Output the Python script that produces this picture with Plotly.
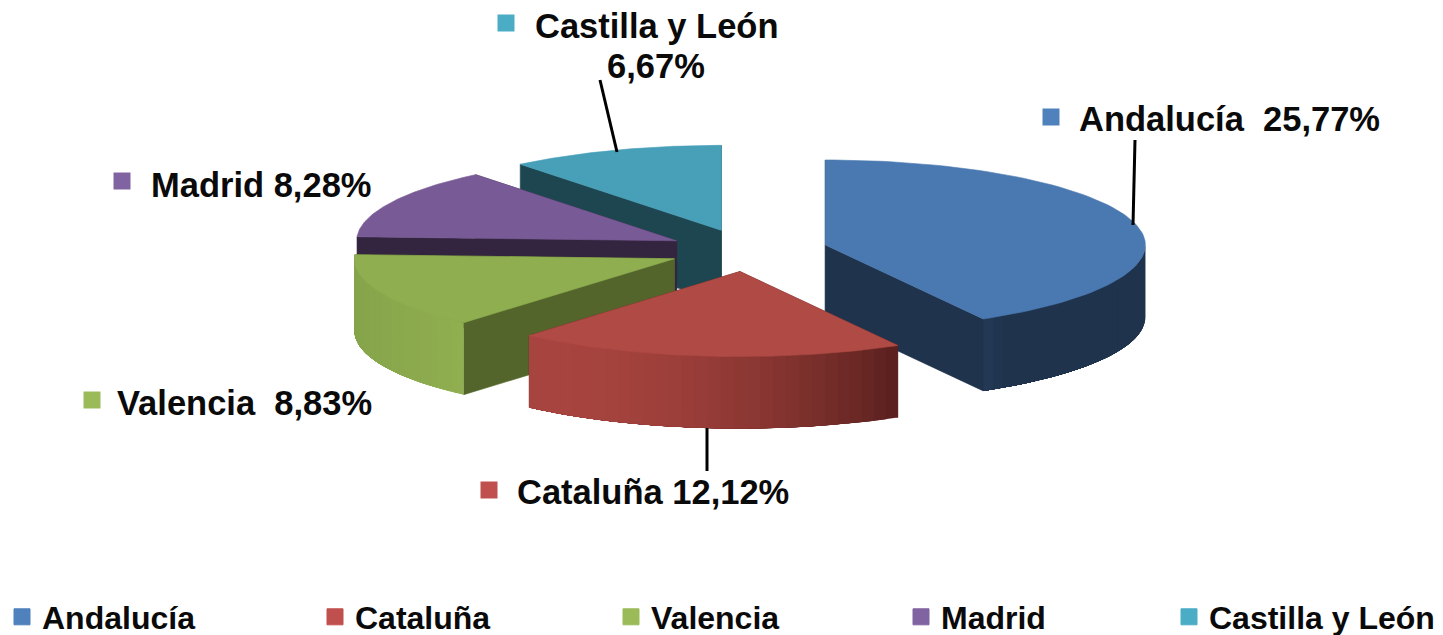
import math
import plotly.graph_objects as go

categories = ["Andalucía", "Cataluña", "Valencia", "Madrid", "Castilla y León"]
percent_values = [25.77, 12.12, 8.83, 8.28, 6.67]
percent_labels = ["25,77%", "12,12%", "8,83%", "8,28%", "6,67%"]

legend_colors = ["#4f81bd", "#c0504d", "#9bbb59", "#8064a2", "#4bacc6"]
top_colors = ["#4a78b0", "#b04a45", "#8fae50", "#785a96", "#479fb8"]
wall_colors = ["#1f334d", "#5a201e", "#54652c", "#33253f", "#1d4650"]
outer_left = ["#233a58", "#a8443f", "#86a44a", "#33253f", "#1d4650"]
outer_right = ["#1f334d", "#5a201e", "#90af50", "#33253f", "#1d4650"]

# picture geometry, pixels
CX, CY, RX, RY, DEPTH, EXPLODE = 748.0, 250.4, 320.0, 85.0, 72.0, 80.0
TITLE_FONT = "Liberation Sans"
LABEL_SIZE = 34.5
LEGEND_SIZE = 32
INK = "#0a0a0a"

total = sum(percent_values)
angles = [0.0]
for v in percent_values:
    angles.append(angles[-1] + v / total * 2 * math.pi)


def arc(ax, ay, a0, a1, n=90, dy=0.0):
    return [(ax + RX * math.sin(a0 + (a1 - a0) * i / n),
             ay - RY * math.cos(a0 + (a1 - a0) * i / n) + dy) for i in range(n + 1)]


def mix(c1, c2, t):
    a = [int(c1[i:i + 2], 16) for i in (1, 3, 5)]
    b = [int(c2[i:i + 2], 16) for i in (1, 3, 5)]
    return "#" + "".join(f"{round(p + (q - p) * t):02x}" for p, q in zip(a, b))


def poly(fig, pts, color, name, width=0.6):
    xs = [p[0] for p in pts] + [pts[0][0]]
    ys = [p[1] for p in pts] + [pts[0][1]]
    fig.add_trace(go.Scatter(x=xs, y=ys, mode="lines", fill="toself", fillcolor=color,
                             line=dict(color=color, width=width), showlegend=False,
                             hoverinfo="skip", name=name))


fig = go.Figure()
draw_order = [4, 3, 0, 2, 1]  # back to front
for k in draw_order:
    a0, a1 = angles[k], angles[k + 1]
    mid = (a0 + a1) / 2
    ax = CX + EXPLODE * math.sin(mid)
    ay = CY - EXPLODE * (RY / RX) * math.cos(mid)
    for edge in (a1, a0):
        px, py = arc(ax, ay, edge, edge, n=1)[0]
        poly(fig, [(ax, ay), (px, py), (px, py + DEPTH), (ax, ay + DEPTH)], wall_colors[k], categories[k])
    lo = max(a0, math.pi / 2)
    hi = min(a1, 3 * math.pi / 2)
    if hi > lo:
        strips = 30
        xs_all = [ax + RX * math.sin(lo), ax + RX * math.sin(hi)]
        for s in range(strips):
            b0 = lo + (hi - lo) * s / strips
            b1 = hi  # each strip runs to the end and is overdrawn by the next one
            top = arc(ax, ay, b0, b1, n=24)
            bottom = arc(ax, ay, b1, b0, n=24, dy=DEPTH)
            xmid = ax + RX * math.sin(b0 + (hi - lo) / strips / 2)
            t = (xmid - min(xs_all)) / max(1.0, max(xs_all) - min(xs_all))
            t = t ** 2 if k == 1 else t
            if k == 0:
                t = min(1.0, (1 - t) * 0 + t * 8)
            poly(fig, top + bottom, mix(outer_left[k], outer_right[k], t), categories[k], width=0)
    poly(fig, [(ax, ay)] + arc(ax, ay, a0, a1), top_colors[k], categories[k])

# data-label swatches and text
label_swatch_x = [1051, 489, 92, 122, 506]
label_swatch_y = [117, 490, 400, 181, 23]
fig.add_trace(go.Scatter(x=label_swatch_x, y=label_swatch_y, mode="markers",
                         marker=dict(symbol="square", size=17, color=legend_colors),
                         showlegend=False, hoverinfo="skip"))

label_text = [
    f"{categories[0]}\u00a0 {percent_labels[0]}",
    f"{categories[1]} {percent_labels[1]}",
    f"{categories[2]}\u00a0 {percent_labels[2]}",
    f"{categories[3]} {percent_labels[3]}",
    categories[4],
    percent_labels[4],
]
label_x = [1077, 515, 115, 149, 657, 656]
label_y = [119, 492, 403, 185, 26, 66]
label_anchor = ["left", "left", "left", "left", "center", "center"]
for t, x, y, an in zip(label_text, label_x, label_y, label_anchor):
    fig.add_annotation(x=x, y=y, text=t, showarrow=False, xanchor=an, yanchor="middle", align="center",
                       font=dict(family=TITLE_FONT, size=LABEL_SIZE, color=INK, weight="bold"))

leaders = [((1135, 140), (1133, 225)), ((707, 428), (707, 471)), ((600, 80), (617, 152))]
for p, q in leaders:
    fig.add_shape(type="line", x0=p[0], y0=p[1], x1=q[0], y1=q[1], line=dict(color="#000000", width=3))

# legend: one small legend per entry, as spaced in the picture
legend_left = [2, 315, 611, 901, 1169]
layout_legends = {}
for i, name in enumerate(categories):
    key = "legend" if i == 0 else f"legend{i + 1}"
    fig.add_trace(go.Scatter(x=[None], y=[None], mode="markers", name=name, legend=key,
                             marker=dict(symbol="square", size=16, color=legend_colors[i],
                                         line=dict(width=1, color=legend_colors[i]))))
    layout_legends[key] = dict(x=legend_left[i] / 1443, y=1 - 617 / 635, xanchor="left", yanchor="middle",
                               bgcolor="rgba(0,0,0,0)", borderwidth=0, itemsizing="trace",
                               font=dict(family=TITLE_FONT, size=LEGEND_SIZE, color=INK, weight="bold"))

fig.update_layout(
    width=1443, height=635, margin=dict(l=0, r=0, t=0, b=0, autoexpand=False),
    paper_bgcolor="#ffffff", plot_bgcolor="#ffffff", showlegend=True, hovermode=False,
    xaxis=dict(range=[0, 1443], visible=False, fixedrange=True),
    yaxis=dict(range=[635, 0], visible=False, fixedrange=True),
    **layout_legends,
)
fig.write_html("out.html", config={"displayModeBar": False},
               post_script="document.body.style.margin='0';document.body.style.overflow='hidden';")
